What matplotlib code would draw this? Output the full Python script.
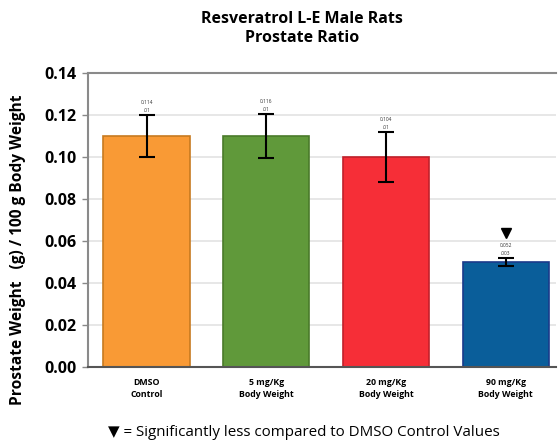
import matplotlib
matplotlib.use("Agg")
import matplotlib.pyplot as plt
import numpy as np

groups = ["DMSO\nControl", "5 mg/Kg\nBody Weight", "20 mg/Kg\nBody Weight", "90 mg/Kg\nBody Weight"]
means = [0.110, 0.110, 0.100, 0.050]
errors = [0.010, 0.0105, 0.012, 0.002]
value_notes = ["0.114\n.01", "0.116\n.01", "0.104\n.01", "0.052\n.003"]
significant = [False, False, False, True]
colors = ["#F99A35", "#60993A", "#F62E37", "#0A5E9A"]
edges = ["#C77A20", "#4A7A2A", "#C0202A", "#1A3A8A"]

plt.rcParams['font.family'] = ['Open Sans', 'DejaVu Sans']

fig = plt.figure(figsize=(5.6, 4.45), dpi=100)
ax = fig.add_axes([0.157, 0.175, 0.836, 0.661])

x = np.arange(len(groups))
ax.bar(x, means, width=0.72, color=colors, edgecolor=edges, linewidth=1.2, zorder=2)
ax.errorbar(x, means, yerr=errors, fmt="none", ecolor="black", elinewidth=1.5,
            capsize=6, capthick=1.5, zorder=3)

for xi, m, e, note, sig in zip(x, means, errors, value_notes, significant):
    ax.text(xi, m + e + 0.001, note, ha="center", va="bottom", fontsize=3.5,
            linespacing=1.6, color="#333333", zorder=4)
    if sig:
        ax.plot(xi, m + e + 0.012, marker="v", color="black", markersize=7.5, zorder=4)

ax.set_xlim(-0.49, 3.42)
ax.set_ylim(0, 0.14)
ax.set_yticks(np.arange(0, 0.141, 0.02))
ax.set_yticklabels([f"{v:.2f}" for v in np.arange(0, 0.141, 0.02)],
                   fontsize=11.5, fontweight="bold")
ax.set_xticks(x)
ax.set_xticklabels(groups, fontsize=6.3, fontweight="bold", linespacing=1.4)
ax.tick_params(axis="x", length=0, pad=8)
ax.tick_params(axis="y", length=4, color="#888888", width=1, pad=4)
ax.yaxis.grid(True, color="#E3E3E3", linewidth=1.2, zorder=0)
ax.set_axisbelow(True)

for side in ["left", "bottom", "top"]:
    ax.spines[side].set_color("#8A8A8A")
    ax.spines[side].set_linewidth(1.5)
ax.spines["bottom"].set_color("#555555")
ax.spines["right"].set_visible(False)

ax.set_ylabel("Prostate Weight   (g) / 100 g Body Weight", fontsize=11.2,
              fontweight="bold")
ax.yaxis.set_label_coords(-0.133, 0.40)

fig.text(0.54, 0.935, "Resveratrol L-E Male Rats\nProstate Ratio", ha="center",
         va="center", fontsize=11.5, fontweight="bold", linespacing=1.25)

fig.text(0.543, 0.027, "\u25BC = Significantly less compared to DMSO Control Values",
         ha="center", va="center", fontsize=10.9)

fig.savefig("out.png", dpi=100)
